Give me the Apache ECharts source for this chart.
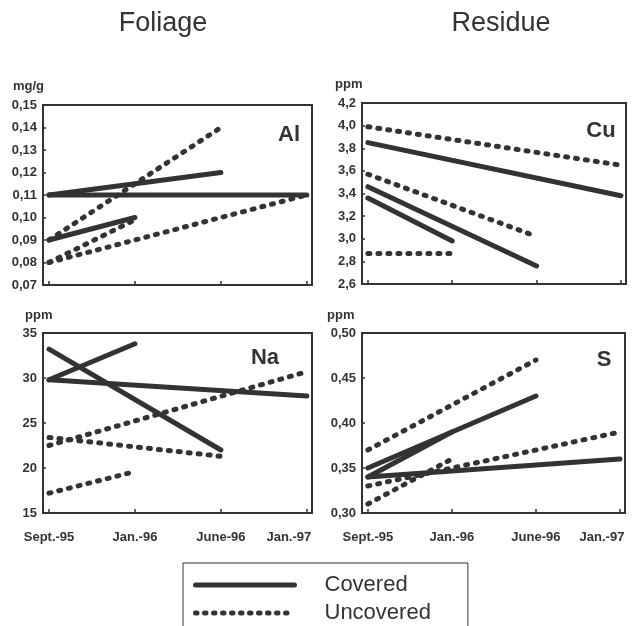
<!DOCTYPE html>
<html>
<head>
<meta charset="utf-8">
<script src="https://cdn.jsdelivr.net/npm/echarts@6/dist/echarts.min.js"></script>
<style>
  html, body { margin: 0; padding: 0; background: #fff; }
  #chart { width: 638px; height: 626px; }
</style>
</head>
<body>
<div id="chart"></div>
<script>
const FONT = '"Liberation Sans", Arial, Helvetica, sans-serif';
const INK = '#333';

// sampling dates (x axis, evenly spaced)
const periods = ['Sept.-95', 'Jan.-96', 'June-96', 'Jan.-97'];

// Foliage Al, mg/g  (one row per line, null = not sampled)
const alCovered = [
  [0.110, null, null, 0.110],
  [0.110, null, 0.120, null],
  [0.090, 0.100, null, null]
];
const alUncovered = [
  [0.090, null, 0.140, null],
  [0.080, 0.099, null, null],
  [0.080, null, null, 0.110]
];

// Residue Cu, ppm
const cuCovered = [
  [3.85, null, null, 3.38],
  [3.46, null, 2.76, null],
  [3.36, 2.98, null, null]
];
const cuUncovered = [
  [3.99, null, null, 3.65],
  [3.57, null, 3.02, null],
  [2.87, 2.87, null, null]
];

// Foliage Na, ppm
const naCovered = [
  [29.8, 33.8, null, null],
  [33.2, null, 22.0, null],
  [29.8, null, null, 28.0]
];
const naUncovered = [
  [22.5, null, null, 30.7],
  [23.4, null, 21.3, null],
  [17.2, 19.6, null, null]
];

// Residue S, ppm
const sCovered = [
  [0.35, null, 0.43, null],
  [0.34, 0.39, null, null],
  [0.34, null, null, 0.36]
];
const sUncovered = [
  [0.37, null, 0.47, null],
  [0.33, null, null, 0.39],
  [0.31, 0.36, null, null]
];

// y scales per panel: [min, max, interval, decimals]
const alScale = [0.07, 0.15, 0.01, 2];
const cuScale = [2.6, 4.2, 0.2, 1];
const naScale = [15, 35, 5, 0];
const sScale = [0.30, 0.50, 0.05, 2];

const solidStyle = { color: INK, width: 5, type: 'solid', cap: 'round' };
const dotStyle = { color: INK, width: 5, type: [2, 8], cap: 'round' };
const legendDotStyle = { color: INK, width: 5, type: [1.5, 7.5], cap: 'round' };

const X_MIN = -0.07, X_MAX = 3.06;

function makeXAxis(gridIndex, showLabels) {
  return {
    type: 'value', gridIndex: gridIndex,
    min: X_MIN, max: X_MAX, minInterval: 1, maxInterval: 1,
    axisLine: { onZero: false, lineStyle: { color: INK, width: 2 } },
    axisTick: { inside: true, length: 4, lineStyle: { color: INK, width: 1.5 } },
    splitLine: { show: false },
    axisLabel: {
      show: showLabels, margin: 18, fontSize: 13, fontWeight: 'bold', color: INK, fontFamily: FONT,
      formatter: function (v) {
        const i = Math.round(v);
        if (Math.abs(v - i) > 1e-6 || !periods[i]) return '';
        return i === periods.length - 1 ? '{last|' + periods[i] + '}' : periods[i];
      },
      rich: { last: { padding: [0, 36, 0, 0], fontSize: 13, fontWeight: 'bold', color: INK, fontFamily: FONT } }
    }
  };
}

function makeYAxis(gridIndex, scale) {
  return {
    type: 'value', gridIndex: gridIndex,
    min: scale[0], max: scale[1], interval: scale[2],
    axisLine: { show: true, onZero: false, lineStyle: { color: INK, width: 2 } },
    axisTick: { show: true, inside: true, length: 3, lineStyle: { color: INK, width: 1.5 } },
    splitLine: { show: false },
    axisLabel: {
      margin: 6, fontSize: 13, fontWeight: 'bold', color: INK, fontFamily: FONT,
      formatter: function (v) { return v.toFixed(scale[3]).replace('.', ','); }
    }
  };
}

function lineSeries(rows, name, style, k) {
  return rows.map(function (row) {
    const pts = [];
    row.forEach(function (v, i) { if (v !== null) pts.push([i, v]); });
    return {
      type: 'line', name: name, xAxisIndex: k, yAxisIndex: k,
      data: pts, symbol: 'none', lineStyle: style, silent: true, z: 3
    };
  });
}

const gridBase = { show: true, borderColor: INK, borderWidth: 2, backgroundColor: 'transparent' };

function label(text, x, y, size, weight, align) {
  return {
    type: 'text', x: x, y: y, silent: true,
    style: {
      text: text, fill: INK, font: weight + ' ' + size + 'px ' + FONT,
      textAlign: align || 'center', textVerticalAlign: 'middle'
    }
  };
}

const chart = echarts.init(document.getElementById('chart'), null, { renderer: 'canvas' });

let series = [];
series = series.concat(lineSeries(alCovered, 'Covered', solidStyle, 0));
series = series.concat(lineSeries(alUncovered, 'Uncovered', dotStyle, 0));
series = series.concat(lineSeries(cuCovered, 'Covered', solidStyle, 1));
series = series.concat(lineSeries(cuUncovered, 'Uncovered', dotStyle, 1));
series = series.concat(lineSeries(naCovered, 'Covered', solidStyle, 2));
series = series.concat(lineSeries(naUncovered, 'Uncovered', dotStyle, 2));
series = series.concat(lineSeries(sCovered, 'Covered', solidStyle, 3));
series = series.concat(lineSeries(sUncovered, 'Uncovered', dotStyle, 3));

const hiddenMark = { color: 'rgba(0,0,0,0)', borderWidth: 0, opacity: 0 };

chart.setOption({
  backgroundColor: '#fff',
  animation: false,
  grid: [
    Object.assign({ left: 43, top: 105, width: 269, height: 180 }, gridBase),
    Object.assign({ left: 362, top: 103, width: 264, height: 181 }, gridBase),
    Object.assign({ left: 43, top: 333, width: 269, height: 180 }, gridBase),
    Object.assign({ left: 362, top: 333, width: 263, height: 180 }, gridBase)
  ],
  xAxis: [makeXAxis(0, false), makeXAxis(1, false), makeXAxis(2, true), makeXAxis(3, true)],
  yAxis: [makeYAxis(0, alScale), makeYAxis(1, cuScale), makeYAxis(2, naScale), makeYAxis(3, sScale)],
  legend: {
    data: [
      { name: 'Covered', lineStyle: solidStyle, itemStyle: hiddenMark },
      { name: 'Uncovered', lineStyle: legendDotStyle, itemStyle: hiddenMark }
    ],
    orient: 'vertical', left: 183, top: 563,
    width: 260, height: 60,
    padding: [11, 37, 30, 10],
    itemWidth: 99, itemHeight: 14, itemGap: 6,
    borderColor: INK, borderWidth: 1,
    selectedMode: false,
    itemStyle: hiddenMark,
    lineStyle: { width: 5 },
    textStyle: { fontSize: 22, color: INK, fontFamily: FONT, padding: [0, 0, 0, 25] }
  },
  graphic: [
    label('Foliage', 163, 24, 27, 'normal'),
    label('Residue', 501, 24, 27, 'normal'),
    label('mg/g', 13, 86, 13, 'bold', 'left'),
    label('ppm', 335, 84, 13, 'bold', 'left'),
    label('ppm', 25, 315, 13, 'bold', 'left'),
    label('ppm', 327, 315, 13, 'bold', 'left'),
    label('Al', 289, 135, 22, 'bold'),
    label('Cu', 601, 131, 22, 'bold'),
    label('Na', 265, 358, 22, 'bold'),
    label('S', 604, 360, 22, 'bold')
  ],
  series: series
});
</script>
</body>
</html>
